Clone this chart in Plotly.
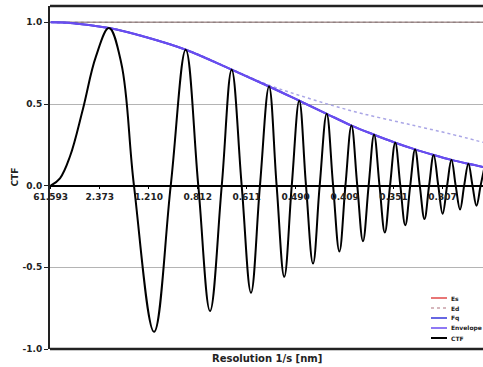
import plotly.graph_objects as go

# ---------------- data ----------------
# spatial frequency s [1/nm] and CTF value at zero crossings / extrema
ctf_s = [0.0162, 0.093, 0.176, 0.283, 0.39, 0.498, 0.60, 0.705, 0.871, 1.009,
         1.133, 1.237, 1.334, 1.431, 1.513, 1.596, 1.673, 1.747, 1.822, 1.885,
         1.948, 2.010, 2.072, 2.128, 2.186, 2.241, 2.299, 2.352, 2.404, 2.454,
         2.504, 2.552, 2.599, 2.646, 2.691, 2.736, 2.780, 2.823, 2.866, 2.908,
         2.949, 2.990, 3.030, 3.069, 3.108, 3.146, 3.184, 3.222, 3.258, 3.295,
         3.331, 3.366, 3.402, 3.436, 3.471, 3.505, 3.538, 3.572, 3.604]
ctf_val = [0.0, 0.045, 0.18, 0.47, 0.79, 0.965, 0.75, 0.0, -0.895, 0.0,
           0.832, 0.0, -0.767, 0.0, 0.71, 0.0, -0.656, 0.0, 0.607, 0.0,
           -0.558, 0.0, 0.52, 0.0, -0.477, 0.0, 0.44, 0.0, -0.403, 0.0,
           0.368, 0.0, -0.340, 0.0, 0.312, 0.0, -0.287, 0.0, 0.263, 0.0,
           -0.242, 0.0, 0.222, 0.0, -0.204, 0.0, 0.188, 0.0, -0.172, 0.0,
           0.158, 0.0, -0.146, 0.0, 0.134, 0.0, -0.123, 0.0, 0.113]

env_s = [0.0162, 0.2, 0.498, 0.8, 1.133, 1.513, 1.822, 2.072, 2.299, 2.504,
         2.691, 2.866, 3.030, 3.184, 3.331, 3.471, 3.604]
env_val = [1.0, 0.995, 0.965, 0.91, 0.832, 0.71, 0.607, 0.52, 0.44, 0.368,
           0.312, 0.263, 0.222, 0.188, 0.158, 0.134, 0.113]

es_s = [0.0162, 3.604]
es_val = [1.0, 1.0]
ed_s = [0.0162, 3.604]
ed_val = [1.0, 1.0]

damp_s = [0.0162, 0.498, 1.133, 1.513, 1.822, 2.077, 2.35, 2.6, 2.905, 3.1, 3.32, 3.604]
damp_val = [1.0, 0.966, 0.834, 0.713, 0.615, 0.552, 0.49, 0.44, 0.388, 0.355, 0.317, 0.263]

tick_s = [0.01624, 0.42141, 0.82658, 1.23175, 1.63692, 2.04209, 2.44726, 2.85243, 3.2576]
tick_text = ["61.593", "2.373", "1.210", "0.812", "0.611", "0.490", "0.409", "0.351", "0.307"]
ytick_vals = [-1.0, -0.5, 0.0, 0.5, 1.0]
ytick_text = ["-1.0", "-0.5", "0.0", "0.5", "1.0"]

legend_names = ["Es", "Ed", "Fq", "Envelope", "CTF"]
legend_colors = ["#e04848", "#c9a0a8", "#3434d8", "#6a4cf0", "#000000"]
legend_dash = ["solid", "dot", "solid", "solid", "solid"]

FONT = "DejaVu Sans"

fig = go.Figure()
fig.add_trace(go.Scatter(x=es_s, y=es_val, mode="lines", name="Es",
                         line=dict(color="#a89494", width=1.5)))
fig.add_trace(go.Scatter(x=ed_s, y=ed_val, mode="lines", name="Ed",
                         line=dict(color="#908080", width=1.2, dash="dot")))
fig.add_trace(go.Scatter(x=damp_s, y=damp_val, mode="lines", name="damping",
                         line=dict(color="#aaa6e6", width=1.5, dash="dot", shape="spline")))
fig.add_trace(go.Scatter(x=env_s, y=env_val, mode="lines", name="Fq",
                         line=dict(color="#3434d8", width=2, shape="spline")))
fig.add_trace(go.Scatter(x=env_s, y=env_val, mode="lines", name="Envelope",
                         line=dict(color="#6a4cf0", width=2, shape="spline")))
fig.add_trace(go.Scatter(x=ctf_s, y=ctf_val, mode="lines", name="CTF",
                         line=dict(color="#000000", width=2, shape="spline", smoothing=1.1)))

ymin, ymax = -1.0, 1.1
fig.update_layout(
    width=483, height=367,
    margin=dict(l=50, r=0, t=6, b=18),
    paper_bgcolor="white", plot_bgcolor="white",
    showlegend=False,
    font=dict(family=FONT, size=9, color="#222222"),
    xaxis=dict(range=[0.01045, 3.5919], tickvals=tick_s, ticktext=tick_text,
               anchor="free", position=(0 - ymin) / (ymax - ymin),
               showline=True, linecolor="#000000", linewidth=1.5,
               ticks="outside", ticklen=3, tickcolor="#000000", tickwidth=1,
               showgrid=False, zeroline=False,
               tickfont=dict(family=FONT, size=9, weight="bold", color="#222222")),
    yaxis=dict(range=[ymin, ymax], tickvals=ytick_vals, ticktext=ytick_text,
               showline=True, linecolor="#222222", linewidth=2,
               ticks="outside", ticklen=4, tickcolor="#222222",
               showgrid=True, gridcolor="#b4b4b4", gridwidth=1, zeroline=False,
               tickfont=dict(family=FONT, size=9, weight="bold", color="#222222")),
)

# frame lines (top and bottom)
fig.add_shape(type="line", xref="paper", yref="paper", x0=0, x1=1, y0=1, y1=1,
              line=dict(color="#222222", width=2.5))
fig.add_shape(type="line", xref="paper", yref="paper", x0=0, x1=1, y0=0, y1=0,
              line=dict(color="#222222", width=2.5))

# axis titles
fig.add_annotation(text="<b>Resolution 1/s [nm]</b>", xref="paper", yref="paper",
                   x=0.5, y=0, yshift=-9, xanchor="center", yanchor="middle",
                   showarrow=False, font=dict(family=FONT, size=10, color="#222222"))
fig.add_annotation(text="<b>CTF</b>", xref="paper", yref="paper",
                   x=0, xshift=-36, y=0.5, textangle=-90, xanchor="center", yanchor="middle",
                   showarrow=False, font=dict(family=FONT, size=9, color="#222222"))

# compact legend (bottom right)
plot_w, plot_h = 433.0, 343.0
for i, (nm, col, ds) in enumerate(zip(legend_names, legend_colors, legend_dash)):
    py = 298 + 10 * i
    yp = (349 - py) / plot_h
    fig.add_shape(type="line", xref="paper", yref="paper",
                  x0=(431 - 50) / plot_w, x1=(447 - 50) / plot_w, y0=yp, y1=yp,
                  line=dict(color=col, width=2 if nm == "CTF" else 1.5, dash=ds))
    fig.add_annotation(text="<b>%s</b>" % nm, xref="paper", yref="paper",
                       x=(449 - 50) / plot_w, y=yp, xanchor="left", yanchor="middle",
                       showarrow=False, font=dict(family=FONT, size=6, color="#222222"))

fig.write_html("out.html")
